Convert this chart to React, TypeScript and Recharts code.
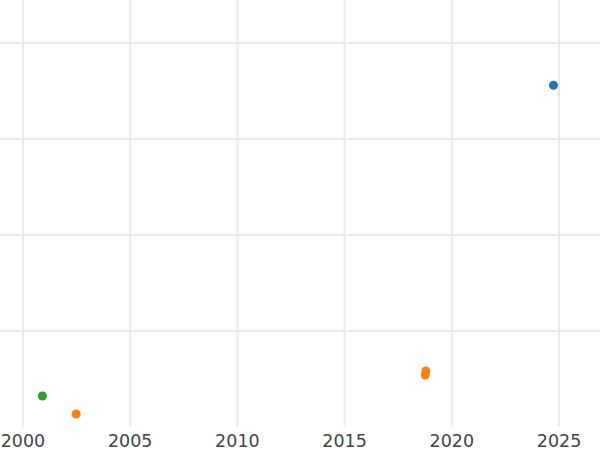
import { CartesianGrid, Scatter, ScatterChart, XAxis, YAxis } from "recharts";

// values
const blueYears = [2024.74];
const blueValues = [3.56];
const orangeYears = [2002.48, 2018.76, 2018.79];
const orangeValues = [0.135, 0.542, 0.583];
const greenYears = [2000.91];
const greenValues = [0.323];

const xTicks = [2000, 2005, 2010, 2015, 2020, 2025];
const yTicks = [1, 2, 3, 4];

const toPoints = (xs: number[], ys: number[]) => xs.map((x, i) => ({ x, y: ys[i] }));

const dot = (color: string) => (props: any) =>
  <circle cx={props.cx} cy={props.cy} r={4.5} fill={color} />;

export default function App() {
  return (
    <div style={{ position: "absolute", left: 0, top: 0 }}>
      <ScatterChart width={600} height={450} margin={{ top: 0, right: 0, bottom: 0, left: 0 }}>
        <CartesianGrid stroke="#ebebeb" strokeWidth={2} syncWithTicks />
        <XAxis
          type="number"
          dataKey="x"
          domain={[1998.93, 2026.91]}
          ticks={xTicks}
          allowDataOverflow
          axisLine={false}
          tickLine={false}
          height={23}
          tick={{ fontSize: 17.5, fill: "#444", fontFamily: "DejaVu Sans" }}
        />
        <YAxis type="number" dataKey="y" domain={[0, 4.448]} ticks={yTicks} allowDataOverflow hide />
        <Scatter data={toPoints(blueYears, blueValues)} shape={dot("#1f77b4")} isAnimationActive={false} />
        <Scatter data={toPoints(orangeYears, orangeValues)} shape={dot("#ff7f0e")} isAnimationActive={false} />
        <Scatter data={toPoints(greenYears, greenValues)} shape={dot("#2ca02c")} isAnimationActive={false} />
      </ScatterChart>
    </div>
  );
}
